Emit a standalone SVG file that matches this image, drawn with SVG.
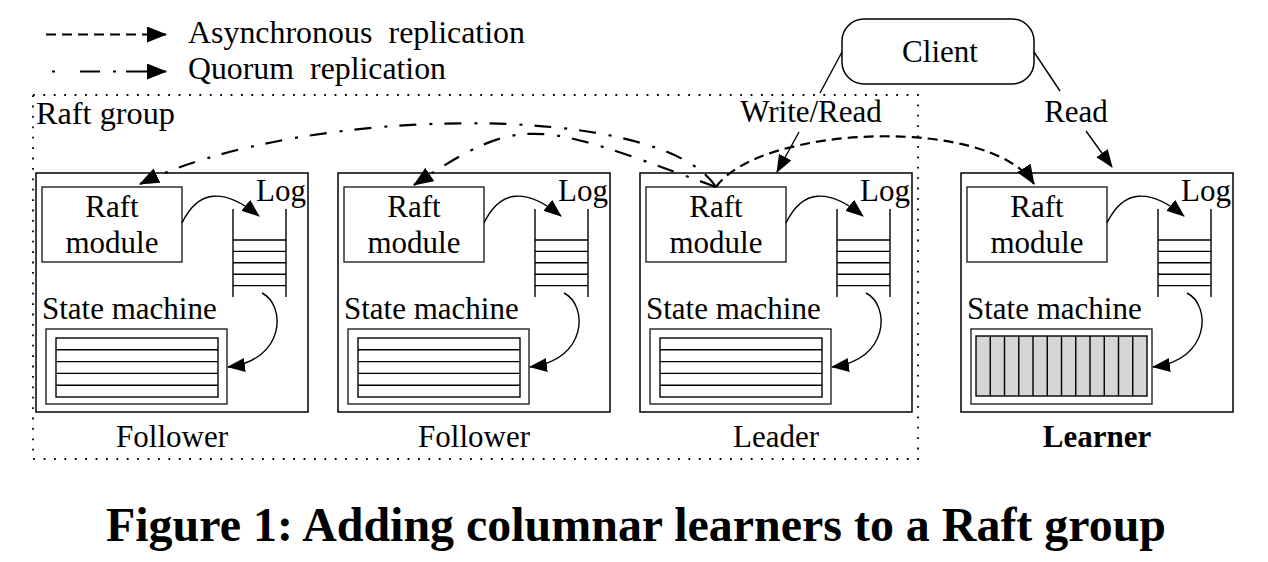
<svg xmlns="http://www.w3.org/2000/svg" width="1268" height="562" viewBox="0 0 1268 562">
<defs>
<style>
text{font-family:"Liberation Serif","Times New Roman",serif;fill:#000}
.t{font-size:31px}
.c{text-anchor:middle}
.box{fill:#fff;stroke:#000;stroke-width:1.5}
.mod{fill:none;stroke:#222;stroke-width:1.4}
.ln{fill:none;stroke:#000;stroke-width:1.4}
.arr{fill:none;stroke:#000;stroke-width:1.4;marker-end:url(#ahs)}
.async{fill:none;stroke:#000;stroke-width:2.2;stroke-dasharray:10 6;marker-end:url(#ah)}
.quorum{fill:none;stroke:#000;stroke-width:2.2;stroke-dasharray:17 12 3 13;marker-end:url(#ah)}
.grp{fill:none;stroke:#000;stroke-width:1.8;stroke-dasharray:1.8 8.6}
</style>
<marker id="ah" markerWidth="20" markerHeight="16" refX="19" refY="8" orient="auto" markerUnits="userSpaceOnUse"><path d="M0,0 L20,8 L0,16 z" fill="#000"/></marker>
<marker id="ahs" markerWidth="18" markerHeight="14" refX="17" refY="7" orient="auto" markerUnits="userSpaceOnUse"><path d="M0,0 L18,7 L0,14 z" fill="#000"/></marker>
</defs>
<rect width="1268" height="562" fill="#fff"/>

<g id="legend">
<path d="M46,34.5 L166,34.5" class="async"/>
<text class="t" x="188" y="43" style="word-spacing:8px" textLength="337" lengthAdjust="spacingAndGlyphs">Asynchronous replication</text>
<path d="M52,71.5 L166,71.5" fill="none" stroke="#000" stroke-width="2.2" stroke-dasharray="3 25 20 13 3 10 40" marker-end="url(#ah)"/>
<text class="t" x="188" y="79" style="word-spacing:8px" textLength="258" lengthAdjust="spacingAndGlyphs">Quorum replication</text>
</g>

<g id="raft-group">
<rect x="33" y="95" width="885" height="364" class="grp"/>
<text class="t" x="36" y="124" textLength="139" lengthAdjust="spacingAndGlyphs">Raft group</text>
</g>

<g id="client">
<rect x="842" y="19" width="192" height="65" rx="22" ry="22" class="box"/>
<text class="t c" x="940" y="62">Client</text>
</g>

<g id="follower1" transform="translate(36,173)">
<rect x="0" y="0" width="272" height="239" class="box"/>
<rect x="6" y="14" width="140" height="75" class="mod"/>
<text class="t c" x="76" y="44">Raft</text>
<text class="t c" x="76" y="80">module</text>
<text class="t" x="270" y="28" text-anchor="end">Log</text>
<path d="M197,36 V124 M250,36 V124 M197,67 H250 M197,78.4 H250 M197,89.8 H250 M197,101.2 H250 M197,112.6 H250" class="ln"/>
<text class="t" x="6" y="146">State machine</text>
<rect x="10" y="156" width="181" height="75" class="mod"/>
<rect x="20" y="165" width="162" height="59" class="ln"/>
<path d="M20,176.8 H182 M20,188.6 H182 M20,200.4 H182 M20,212.2 H182" class="ln"/>
<path d="M146,50 Q170,0 223,43" class="arr"/>
<path d="M226,120 C250,132 250,187 192,194" class="arr"/>
<text class="t c" x="136" y="274">Follower</text>
</g>

<g id="follower2" transform="translate(338,173)">
<rect x="0" y="0" width="272" height="239" class="box"/>
<rect x="6" y="14" width="140" height="75" class="mod"/>
<text class="t c" x="76" y="44">Raft</text>
<text class="t c" x="76" y="80">module</text>
<text class="t" x="270" y="28" text-anchor="end">Log</text>
<path d="M197,36 V124 M250,36 V124 M197,67 H250 M197,78.4 H250 M197,89.8 H250 M197,101.2 H250 M197,112.6 H250" class="ln"/>
<text class="t" x="6" y="146">State machine</text>
<rect x="10" y="156" width="181" height="75" class="mod"/>
<rect x="20" y="165" width="162" height="59" class="ln"/>
<path d="M20,176.8 H182 M20,188.6 H182 M20,200.4 H182 M20,212.2 H182" class="ln"/>
<path d="M146,50 Q170,0 223,43" class="arr"/>
<path d="M226,120 C250,132 250,187 192,194" class="arr"/>
<text class="t c" x="136" y="274">Follower</text>
</g>

<g id="leader" transform="translate(640,173)">
<rect x="0" y="0" width="272" height="239" class="box"/>
<rect x="6" y="14" width="140" height="75" class="mod"/>
<text class="t c" x="76" y="44">Raft</text>
<text class="t c" x="76" y="80">module</text>
<text class="t" x="270" y="28" text-anchor="end">Log</text>
<path d="M197,36 V124 M250,36 V124 M197,67 H250 M197,78.4 H250 M197,89.8 H250 M197,101.2 H250 M197,112.6 H250" class="ln"/>
<text class="t" x="6" y="146">State machine</text>
<rect x="10" y="156" width="181" height="75" class="mod"/>
<rect x="20" y="165" width="162" height="59" class="ln"/>
<path d="M20,176.8 H182 M20,188.6 H182 M20,200.4 H182 M20,212.2 H182" class="ln"/>
<path d="M146,50 Q170,0 223,43" class="arr"/>
<path d="M226,120 C250,132 250,187 192,194" class="arr"/>
<text class="t c" x="136" y="274">Leader</text>
</g>

<g id="learner" transform="translate(961,173)">
<rect x="0" y="0" width="272" height="239" class="box"/>
<rect x="6" y="14" width="140" height="75" class="mod"/>
<text class="t c" x="76" y="44">Raft</text>
<text class="t c" x="76" y="80">module</text>
<text class="t" x="270" y="28" text-anchor="end">Log</text>
<path d="M197,36 V124 M250,36 V124 M197,67 H250 M197,78.4 H250 M197,89.8 H250 M197,101.2 H250 M197,112.6 H250" class="ln"/>
<text class="t" x="6" y="146">State machine</text>
<rect x="10" y="156" width="181" height="75" class="mod"/>
<rect x="15" y="163" width="171" height="60" fill="#d6d6d6" stroke="#000" stroke-width="1.4"/>
<path d="M29.25,163 V223 M43.5,163 V223 M57.75,163 V223 M72,163 V223 M86.25,163 V223 M100.5,163 V223 M114.75,163 V223 M129,163 V223 M143.25,163 V223 M157.5,163 V223 M171.75,163 V223" class="ln"/>
<path d="M146,50 Q170,0 223,43" class="arr"/>
<path d="M226,120 C250,132 250,187 192,194" class="arr"/>
<text class="t c" x="136" y="274" font-weight="bold">Learner</text>
</g>

<g id="connectors">
<path d="M716,187 C660,100 300,105 140,184" class="quorum"/>
<path d="M716,187 C536,121 523,112 414,185" class="quorum"/>
<path d="M716,187 C760,125 990,115 1034,184" class="async"/>
<path d="M842,52 L820,93" class="ln"/>
<path d="M799,132 L777,172" class="arr"/>
<path d="M1034,52 L1060,91" class="ln"/>
<path d="M1086,131 L1112,167" class="arr"/>
<text class="t c" x="811" y="122">Write/Read</text>
<text class="t c" x="1076" y="122">Read</text>
</g>

<g id="caption">
<text x="106" y="541" font-size="47.5" font-weight="bold" textLength="1060" lengthAdjust="spacingAndGlyphs">Figure 1: Adding columnar learners to a Raft group</text>
</g>
</svg>
